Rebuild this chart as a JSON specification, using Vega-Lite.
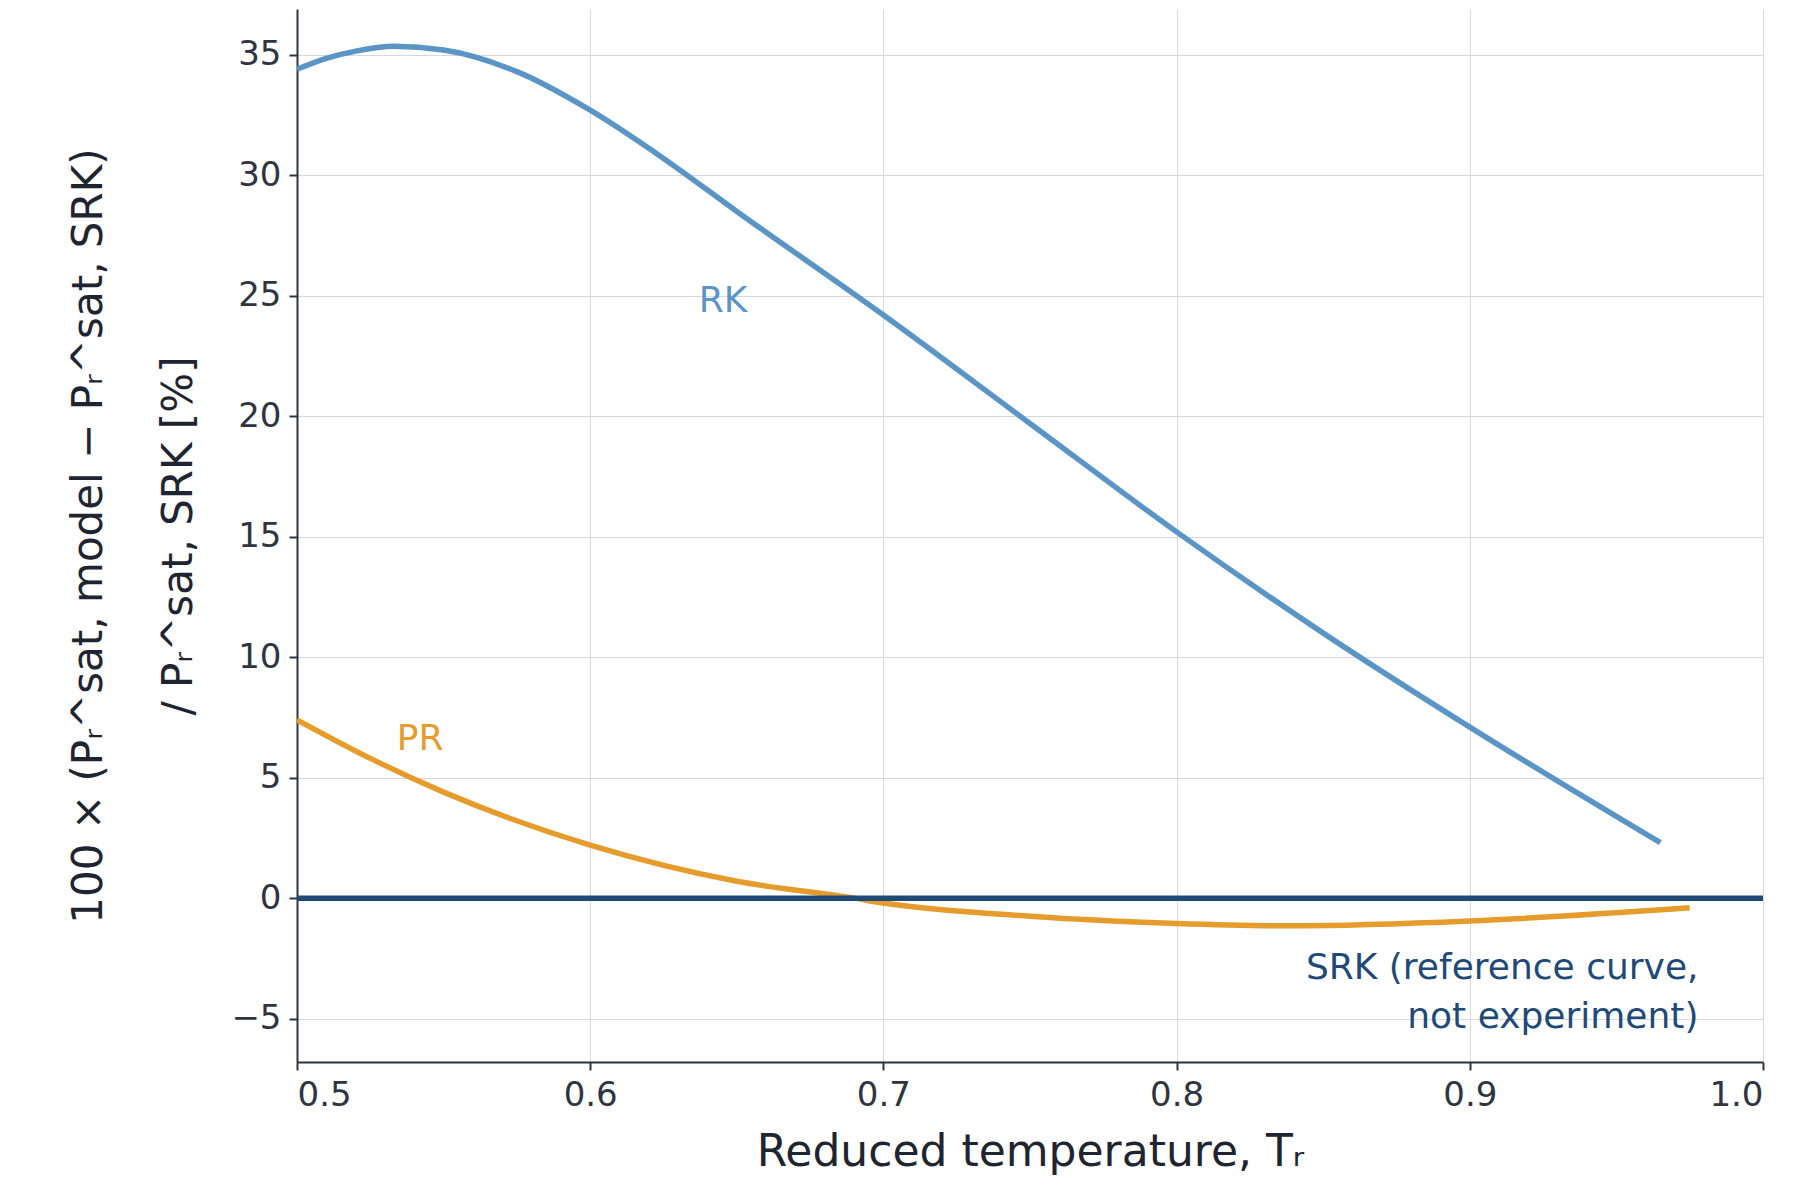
{
  "$schema": "https://vega.github.io/schema/vega-lite/v6.json",
  "width": 1466,
  "height": 1053,
  "autosize": "none",
  "padding": {"left": 297, "top": 9, "right": 37, "bottom": 142},
  "background": "white",
  "config": {
    "font": "DejaVu Sans",
    "view": {"stroke": null},
    "axis": {"labelFont": "DejaVu Sans", "titleFont": "DejaVu Sans", "labelColor": "#2e3440", "titleColor": "#1e2430", "domainColor": "#2e3440", "tickColor": "#2e3440", "gridColor": "#d5d9dd", "labelFontSize": 34, "domainWidth": 2, "tickWidth": 2, "tickSize": 8}
  },
  "datasets": {
    "curves": [
      {"model": "RK", "Tr": 0.5, "dev": 34.4},
      {"model": "RK", "Tr": 0.51, "dev": 34.85},
      {"model": "RK", "Tr": 0.52, "dev": 35.15},
      {"model": "RK", "Tr": 0.533, "dev": 35.35},
      {"model": "RK", "Tr": 0.55, "dev": 35.2},
      {"model": "RK", "Tr": 0.575, "dev": 34.3},
      {"model": "RK", "Tr": 0.6, "dev": 32.7},
      {"model": "RK", "Tr": 0.625, "dev": 30.7},
      {"model": "RK", "Tr": 0.65, "dev": 28.5},
      {"model": "RK", "Tr": 0.7, "dev": 24.2},
      {"model": "RK", "Tr": 0.75, "dev": 19.7},
      {"model": "RK", "Tr": 0.8, "dev": 15.2},
      {"model": "RK", "Tr": 0.85, "dev": 11.0},
      {"model": "RK", "Tr": 0.9, "dev": 7.1},
      {"model": "RK", "Tr": 0.965, "dev": 2.3},
      {"model": "PR", "Tr": 0.5, "dev": 7.4},
      {"model": "PR", "Tr": 0.525, "dev": 5.8},
      {"model": "PR", "Tr": 0.55, "dev": 4.4},
      {"model": "PR", "Tr": 0.6, "dev": 2.2},
      {"model": "PR", "Tr": 0.65, "dev": 0.7},
      {"model": "PR", "Tr": 0.69, "dev": 0.0},
      {"model": "PR", "Tr": 0.7, "dev": -0.2},
      {"model": "PR", "Tr": 0.75, "dev": -0.75},
      {"model": "PR", "Tr": 0.8, "dev": -1.05},
      {"model": "PR", "Tr": 0.84, "dev": -1.15},
      {"model": "PR", "Tr": 0.9, "dev": -0.95},
      {"model": "PR", "Tr": 0.975, "dev": -0.4},
      {"model": "SRK", "Tr": 0.5, "dev": 0},
      {"model": "SRK", "Tr": 1.0, "dev": 0}
    ],
    "labels": [
      {"model": "RK", "Tr": 0.637, "dev": 24.8, "text": "RK"},
      {"model": "PR", "Tr": 0.534, "dev": 6.6, "text": "PR"}
    ],
    "srk": [
      {"model": "SRK", "Tr": 0.978, "dev": -2.9, "text": "SRK (reference curve,"},
      {"model": "SRK", "Tr": 0.978, "dev": -4.95, "text": "not experiment)"}
    ]
  },
  "layer": [
    {
      "data": {"name": "curves"},
      "mark": {"type": "line", "strokeWidth": 5.5, "interpolate": "monotone", "clip": true},
      "encoding": {
        "x": {"field": "Tr", "type": "quantitative", "scale": {"domain": [0.5, 1.0], "nice": false}, "axis": {"values": [0.5, 0.6, 0.7, 0.8, 0.9, 1.0], "format": ".1f", "title": "Reduced temperature, Tᵣ", "titleFontSize": 44, "titleFontWeight": "normal", "titlePadding": 18, "labelPadding": 8}},
        "y": {"field": "dev", "type": "quantitative", "scale": {"domain": [-6.8, 36.9], "nice": false, "zero": false}, "axis": {"values": [-5, 0, 5, 10, 15, 20, 25, 30, 35], "title": ["100 × (Pᵣ^sat, model − Pᵣ^sat, SRK)", "/ Pᵣ^sat, SRK   [%]"], "titleFontSize": 42, "titleFontWeight": "normal", "titleLineHeight": 90, "titlePadding": 30, "labelPadding": 8}},
        "color": {"field": "model", "type": "nominal", "scale": {"domain": ["RK", "PR", "SRK"], "range": ["#5a95c6", "#e59c2c", "#1f4a78"]}, "legend": null},
        "detail": {"field": "model"}
      }
    },
    {
      "data": {"name": "labels"},
      "mark": {"type": "text", "fontSize": 36, "align": "left", "baseline": "middle"},
      "encoding": {
        "x": {"field": "Tr", "type": "quantitative"},
        "y": {"field": "dev", "type": "quantitative"},
        "text": {"field": "text"},
        "color": {"field": "model", "type": "nominal", "legend": null}
      }
    },
    {
      "data": {"name": "srk"},
      "mark": {"type": "text", "fontSize": 36, "align": "right", "baseline": "middle", "color": "#1f4a78"},
      "encoding": {
        "x": {"field": "Tr", "type": "quantitative"},
        "y": {"field": "dev", "type": "quantitative"},
        "text": {"field": "text"}
      }
    }
  ]
}
